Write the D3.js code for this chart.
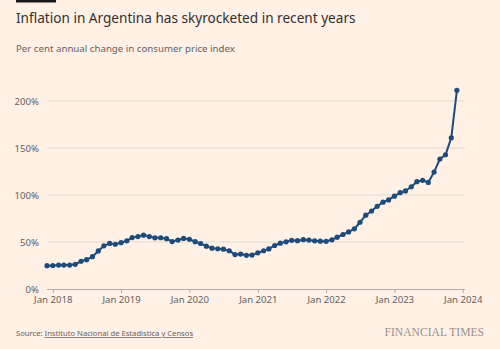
<!DOCTYPE html>
<html>
<head>
<meta charset="utf-8">
<script src="https://cdn.jsdelivr.net/npm/d3@7"></script>
<style>
  body { margin: 0; background: #fff1e5; }
  svg { display: block; font-family: "Noto Sans", sans-serif; }
</style>
</head>
<body>
<svg id="chart" width="500" height="349"></svg>
<script>
// Monthly annual CPI change, Dec 2017 .. Dec 2023
var startMonth = new Date(2017, 11, 1);
var inflation = [
  24.8,
  25.0, 25.4, 25.4, 25.5, 26.3, 29.5, 31.2, 34.4, 40.5, 45.9, 48.5, 47.6,
  49.3, 51.3, 54.7, 55.8, 57.3, 55.8, 54.4, 54.5, 53.5, 50.5, 52.1, 53.8,
  52.9, 50.3, 48.4, 45.6, 43.4, 42.8, 42.4, 40.7, 36.6, 37.2, 35.8, 36.1,
  38.5, 40.7, 42.6, 46.3, 48.8, 50.2, 51.8, 51.4, 52.5, 52.1, 51.2, 50.9,
  50.7, 52.3, 55.1, 58.0, 60.7, 64.0, 71.0, 78.5, 83.0, 88.0, 92.4, 94.8,
  98.8, 102.5, 104.3, 108.8, 114.2, 115.6, 113.4, 124.4, 138.3, 142.7, 160.9, 211.4
];
var yTicks = [0, 50, 100, 150, 200];
var xTickYears = [2018, 2019, 2020, 2021, 2022, 2023, 2024];

var data = inflation.map(function(v, i){
  return { date: new Date(startMonth.getFullYear(), startMonth.getMonth() + i, 1), value: v };
});

var svg = d3.select('#chart');
var plotLeft = 47, plotRight = 465, plotTop = 101, plotBottom = 289;

var xScale = d3.scaleTime().domain([startMonth, new Date(2024, 0, 1)]).range([plotLeft, 462.7]);
var yScale = d3.scaleLinear().domain([0, 200]).range([plotBottom, plotTop]);

// header
svg.append('rect').attr('x', 16).attr('y', 0).attr('width', 40).attr('height', 2.5).attr('fill', '#1a1817');
svg.append('text').attr('x', 16).attr('y', 23).attr('font-size', 13.6).attr('fill', '#33302e')
  .text('Inflation in Argentina has skyrocketed in recent years');
svg.append('text').attr('x', 16).attr('y', 52).attr('font-size', 9.7).attr('fill', '#66605c')
  .text('Per cent annual change in consumer price index');

// gridlines + y labels
var yAxis = svg.append('g');
yAxis.selectAll('line').data(yTicks.filter(function(d){ return d > 0; })).enter().append('line')
  .attr('x1', plotLeft).attr('x2', plotRight)
  .attr('y1', function(d){ return yScale(d); }).attr('y2', function(d){ return yScale(d); })
  .attr('stroke', '#e6d9ce').attr('stroke-width', 1);
yAxis.selectAll('text').data(yTicks).enter().append('text')
  .attr('x', 39).attr('y', function(d){ return yScale(d) + 3.5; })
  .attr('text-anchor', 'end').attr('font-size', 9.6).attr('fill', '#66605c')
  .text(function(d){ return d + '%'; });

// x axis
var xAxis = svg.append('g').attr('transform', 'translate(0,' + plotBottom + ')')
  .call(d3.axisBottom(xScale)
    .tickValues(xTickYears.map(function(y){ return new Date(y, 0, 1); }))
    .tickFormat(d3.timeFormat('Jan %Y'))
    .tickSize(4).tickPadding(3));
xAxis.select('.domain').attr('d', 'M' + plotLeft + ',0.5H' + plotRight).attr('stroke', '#b3a9a0');
xAxis.selectAll('.tick line').attr('stroke', '#b3a9a0');
xAxis.selectAll('.tick text').attr('font-family', '"Noto Sans", sans-serif')
  .attr('font-size', 9.6).attr('fill', '#66605c');

// series
var lineGen = d3.line()
  .x(function(d){ return xScale(d.date); })
  .y(function(d){ return yScale(d.value); });
svg.append('path').datum(data).attr('d', lineGen)
  .attr('fill', 'none').attr('stroke', '#1f4a7c').attr('stroke-width', 2);
svg.append('g').selectAll('circle').data(data).enter().append('circle')
  .attr('cx', function(d){ return xScale(d.date); })
  .attr('cy', function(d){ return yScale(d.value); })
  .attr('r', 2.6).attr('fill', '#1f4a7c');

// footer
var src = svg.append('text').attr('x', 16).attr('y', 336).attr('font-size', 7.65).attr('fill', '#66605c');
src.append('tspan').text('Source: ');
src.append('tspan').attr('text-decoration', 'underline').text('Instituto Nacional de Estadistica y Censos');
svg.append('text').attr('x', 484).attr('y', 336).attr('text-anchor', 'end')
  .attr('font-family', '"Liberation Serif", "DejaVu Serif", serif').attr('font-size', 11.6)
  .attr('fill', '#99918b').text('FINANCIAL TIMES');
</script>
</body>
</html>
